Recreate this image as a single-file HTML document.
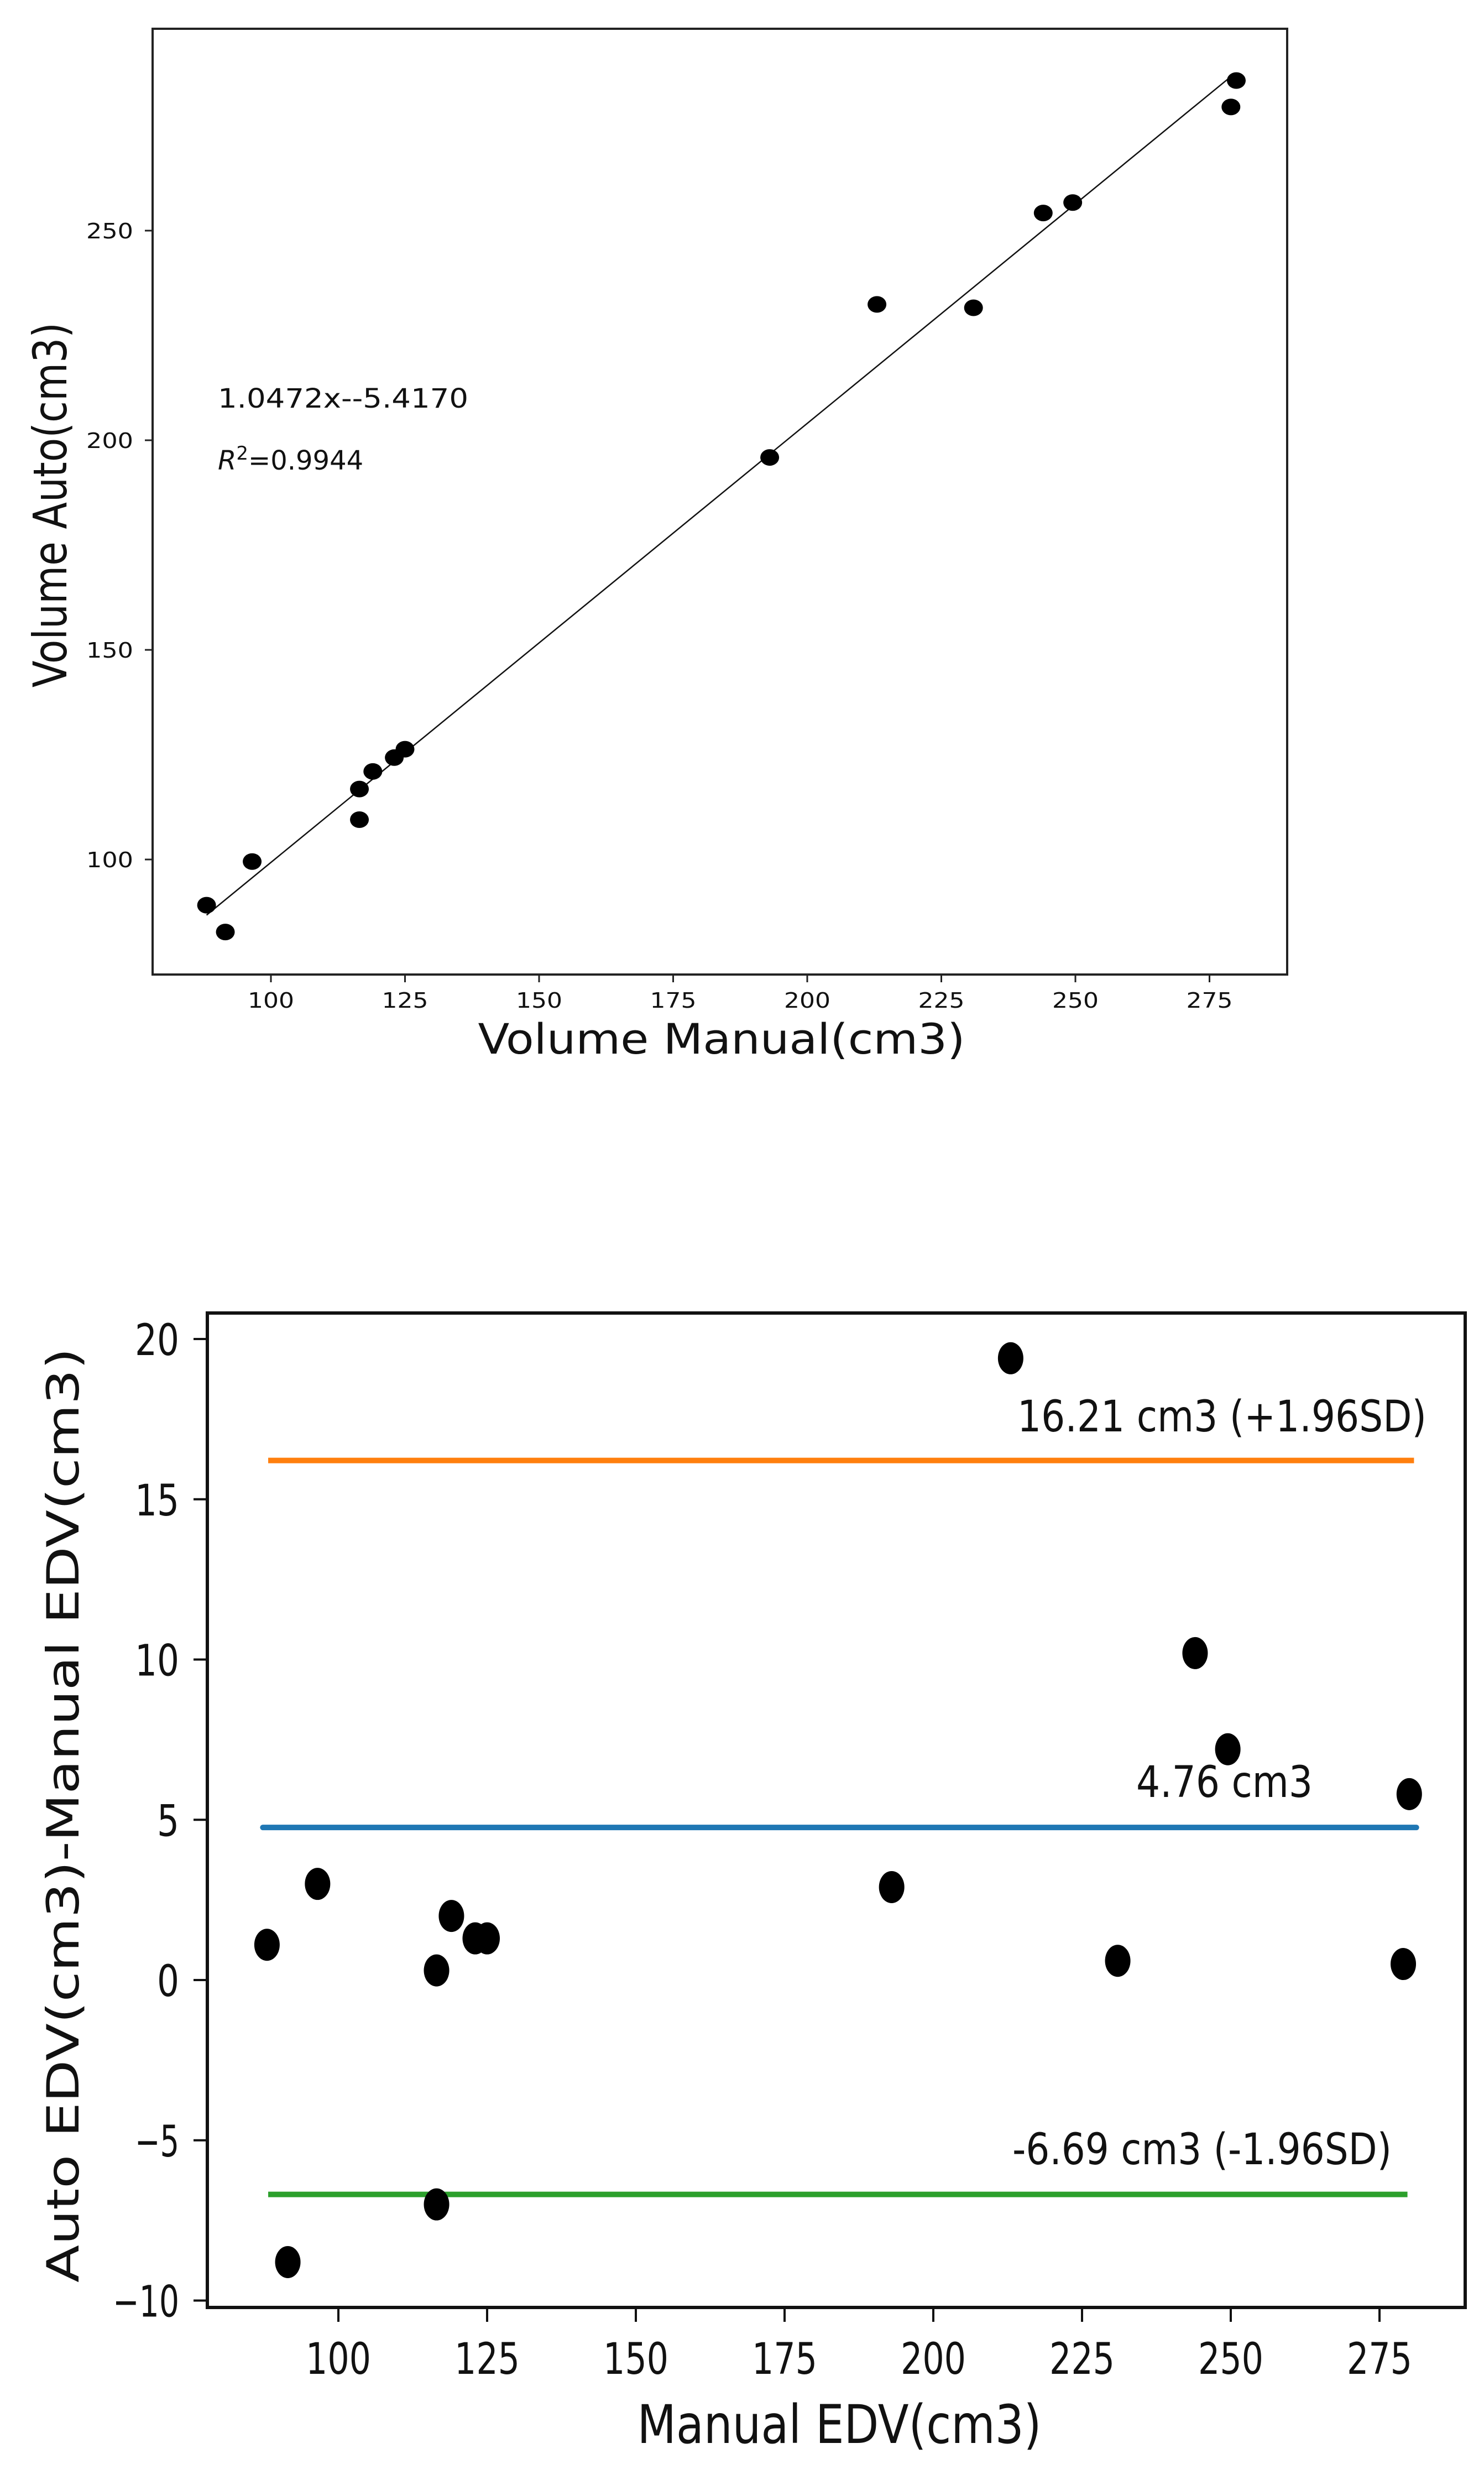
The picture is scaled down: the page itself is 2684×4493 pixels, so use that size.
<!DOCTYPE html>
<html><head><meta charset="utf-8">
<style>
html,body{margin:0;padding:0;background:#fff;}
svg{display:block;}
.dj{font-family:"DejaVu Sans","Liberation Sans",sans-serif;}
.cd{font-family:"DejaVu Sans Condensed","Liberation Sans Narrow","DejaVu Sans",sans-serif;}
</style></head>
<body>
<svg id="fig" width="2684" height="4493" viewBox="0 0 2684 4493" xmlns="http://www.w3.org/2000/svg">
<rect x="0" y="0" width="2684" height="4493" fill="#fff"/>
<g id="topChart"></g>
<g id="botChart"></g>
</svg>
<script>
// ---- data ----
const manualVol = [88, 91.5, 96.5, 116.5, 116.5, 119, 123, 125, 193, 213, 231, 244, 249.5, 279, 280];
const autoVol   = [89.1, 82.7, 99.5, 116.8, 109.5, 121.0, 124.3, 126.3, 195.9, 232.4, 231.6, 254.2, 256.7, 279.5, 285.8];
const fitSlope = 1.0472;
const fitIntercept = -5.417;
const fitRange = [88, 279];
const topXTicks = [100, 125, 150, 175, 200, 225, 250, 275];
const topYTicks = [100, 150, 200, 250];
const botXTicks = [100, 125, 150, 175, 200, 225, 250, 275];
const botYTicks = [-10, -5, 0, 5, 10, 15, 20];
const meanDiff = 4.76;
const upperLoA = 16.21;
const lowerLoA = -6.69;

const NS = "http://www.w3.org/2000/svg";
function mk(parent, tag, attrs, text){
  const e = document.createElementNS(NS, tag);
  for (const k in attrs) e.setAttribute(k, attrs[k]);
  if (text !== undefined) e.textContent = text;
  parent.appendChild(e);
  return e;
}
const topG = document.getElementById('topChart');
const botG = document.getElementById('botChart');

// ---- top chart axes ----
const tx = v => 490 + (v - 100) * 9.70;
const ty = v => 1554 - (v - 100) * 7.58;
let fr = mk(topG, 'rect', {x:276, y:52, width:2052, height:1710, fill:'none', stroke:'#222', 'stroke-width':4});


topXTicks.forEach(v => {
  const t = mk(topG, 'line', {x1:tx(v), x2:tx(v), y1:1762, y2:1776, stroke:'#222', 'stroke-width':3});
  
  
  const l = mk(topG, 'text', {x:tx(v), y:1822, 'text-anchor':'middle', 'font-size':38, class:'dj', fill:'#111', textLength:84, lengthAdjust:'spacingAndGlyphs'}, String(v));
  
  
});
topYTicks.forEach(v => {
  const t = mk(topG, 'line', {x1:262, x2:276, y1:ty(v), y2:ty(v), stroke:'#222', 'stroke-width':3});
  
  
  const l = mk(topG, 'text', {x:241, y:ty(v)+14, 'text-anchor':'end', 'font-size':38, class:'dj', fill:'#111', textLength:85, lengthAdjust:'spacingAndGlyphs'}, String(v));
  
  
});
let ttl = mk(topG, 'text', {x:1305, y:1905, 'text-anchor':'middle', 'font-size':76, class:'dj', fill:'#111', textLength:881, lengthAdjust:'spacingAndGlyphs'}, 'Volume Manual(cm3)');


ttl = mk(topG, 'text', {x:0, y:0, transform:'translate(120,913) rotate(-90)', 'text-anchor':'middle', 'font-size':84, class:'dj', fill:'#111', textLength:660, lengthAdjust:'spacingAndGlyphs'}, 'Volume Auto(cm3)');


let an = mk(topG, 'text', {x:394, y:737, 'font-size':48, class:'dj', fill:'#111', textLength:453, lengthAdjust:'spacingAndGlyphs'}, '1.0472x--5.4170');


an = mk(topG, 'text', {x:394, y:849, 'font-size':48, class:'dj', fill:'#111'});


mk(an, 'tspan', {'font-style':'italic'}, 'R');
mk(an, 'tspan', {dy:-18, 'font-size':34}, '2');
mk(an, 'tspan', {dy:18}, '=0.9944');
// fit line
const fl = mk(topG, 'line', {x1:tx(fitRange[0]), y1:ty(fitSlope*fitRange[0]+fitIntercept), x2:tx(fitRange[1]), y2:ty(fitSlope*fitRange[1]+fitIntercept), stroke:'#111', 'stroke-width':2.5});


manualVol.forEach((m, i) => {
  const p = mk(topG, 'ellipse', {cx:tx(m), cy:ty(autoVol[i]), rx:17, ry:15, fill:'#000'});
  
  
});

// ---- bottom chart (Bland-Altman) ----
const bx = v => 612 + (v - 100) * 10.76;
const by = v => 3580 - v * 57.95;
fr = mk(botG, 'rect', {x:375, y:2374, width:2275, height:1798, fill:'none', stroke:'#111', 'stroke-width':6});


botXTicks.forEach(v => {
  const t = mk(botG, 'line', {x1:bx(v), x2:bx(v), y1:4172, y2:4198, stroke:'#111', 'stroke-width':4});
  
  
  const l = mk(botG, 'text', {x:bx(v), y:4292, 'text-anchor':'middle', 'font-size':78, class:'cd', fill:'#111', textLength:118, lengthAdjust:'spacingAndGlyphs'}, String(v));
  
  
});
botYTicks.forEach(v => {
  const t = mk(botG, 'line', {x1:350, x2:375, y1:by(v), y2:by(v), stroke:'#111', 'stroke-width':4});
  
  
  const s = v < 0 ? '\u2212' + Math.abs(v) : String(v);
  const w = s.length * 40;
  const l = mk(botG, 'text', {x:324, y:by(v)+29, 'text-anchor':'end', 'font-size':78, class:'cd', fill:'#111', textLength:w, lengthAdjust:'spacingAndGlyphs'}, s);
  
  
});
ttl = mk(botG, 'text', {x:1518, y:4417, 'text-anchor':'middle', 'font-size':96, class:'cd', fill:'#111', textLength:731, lengthAdjust:'spacingAndGlyphs'}, 'Manual EDV(cm3)');


ttl = mk(botG, 'text', {x:0, y:0, transform:'translate(142,3282) rotate(-90)', 'text-anchor':'middle', 'font-size':80, class:'dj', fill:'#111', textLength:1690, lengthAdjust:'spacingAndGlyphs'}, 'Auto EDV(cm3)-Manual EDV(cm3)');



const hl = mk(botG, 'line', {x1:bx(88.2), x2:bx(280.8), y1:by(upperLoA), y2:by(upperLoA), stroke:'#ff7f0e', 'stroke-width':10});


const ml = mk(botG, 'line', {x1:bx(87.3), x2:bx(281.2), y1:by(meanDiff), y2:by(meanDiff), stroke:'#1f77b4', 'stroke-width':10, 'stroke-linecap':'round'});


const ll = mk(botG, 'line', {x1:bx(88.2), x2:bx(279.7), y1:by(lowerLoA), y2:by(lowerLoA), stroke:'#2ca02c', 'stroke-width':10});



let la = mk(botG, 'text', {x:1840, y:2588, 'font-size':78, class:'cd', fill:'#111', textLength:740, lengthAdjust:'spacingAndGlyphs'}, upperLoA.toFixed(2) + ' cm3 (+1.96SD)');


la = mk(botG, 'text', {x:2055, y:3249, 'font-size':78, class:'cd', fill:'#111', textLength:319, lengthAdjust:'spacingAndGlyphs'}, meanDiff.toFixed(2) + ' cm3');


la = mk(botG, 'text', {x:1831, y:3913, 'font-size':78, class:'cd', fill:'#111', textLength:686, lengthAdjust:'spacingAndGlyphs'}, lowerLoA.toFixed(2) + ' cm3 (-1.96SD)');



manualVol.forEach((m, i) => {
  const p = mk(botG, 'ellipse', {cx:bx(m), cy:by(autoVol[i] - m), rx:23, ry:29, fill:'#000'});
  
  
});
</script>
</body></html>
